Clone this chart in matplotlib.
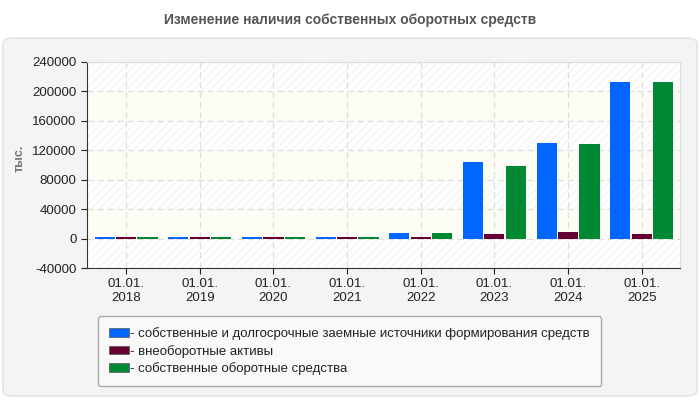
import matplotlib.pyplot as plt
import numpy as np
from matplotlib.patches import FancyBboxPatch

plt.rcParams['font.family'] = ['Liberation Sans', 'DejaVu Sans']
plt.rcParams['hatch.linewidth'] = 0.6
plt.rcParams['axes.unicode_minus'] = False

# data
dates = ["01.01.\n2018", "01.01.\n2019", "01.01.\n2020", "01.01.\n2021",
         "01.01.\n2022", "01.01.\n2023", "01.01.\n2024", "01.01.\n2025"]
sources = [2700, 2700, 2700, 2700, 7000, 104600, 130500, 213400]
noncurrent = [2500, 2500, 2500, 2500, 2500, 6800, 9500, 6800]
working = [2500, 2500, 2500, 2500, 7000, 99200, 129100, 213400]
labels = ["- собственные и долгосрочные заемные источники формирования средств",
          "- внеоборотные активы",
          "- собственные оборотные средства"]
colors = ["#0066ff", "#660033", "#008833"]

fig = plt.figure(figsize=(7, 4), dpi=100)
fig.patch.set_facecolor("white")

# grey panel behind the chart
panel = FancyBboxPatch((0.004, 0.01), 0.992, 0.895, boxstyle="round,pad=0,rounding_size=0.015",
                       transform=fig.transFigure, facecolor="#f4f4f4", edgecolor="#e2e2e2",
                       lw=1, zorder=-10)
fig.patches.append(panel)

fig.text(0.5, 0.95, "Изменение наличия собственных оборотных средств", ha="center", va="center",
         fontsize=10, fontweight="bold", color="#555555")

ax = fig.add_axes([87/700, 1-268/400, 593/700, 206/400])
ax.set_facecolor("white")

# striped background bands
edges = np.arange(-40000, 240001, 40000)
for k in range(len(edges)-1):
    if k % 2 == 0:
        ax.axhspan(edges[k], edges[k+1], facecolor="white", edgecolor="#efefef", hatch="////", lw=0, zorder=0)
    else:
        ax.axhspan(edges[k], edges[k+1], facecolor="#fdfdf5", lw=0, zorder=0)

x = np.arange(len(dates))
w = 0.275
ax.bar(x - 0.29, sources, w, color=colors[0], zorder=3)
ax.bar(x, noncurrent, w, color=colors[1], zorder=3)
ax.bar(x + 0.29, working, w, color=colors[2], zorder=3)

ax.set_xlim(-0.53, 7.52)
ax.set_ylim(-40000, 240000)
ax.set_yticks(edges)
ax.set_xticks(x)
ax.set_xticklabels(dates)
ax.tick_params(labelsize=9.5, colors="#222222", length=4)
ax.grid(True, color="#dddddd", linestyle=(0, (5, 3)), lw=0.9, zorder=1)

for side in ["top", "right"]:
    ax.spines[side].set_color("#dddddd")
for side in ["left", "bottom"]:
    ax.spines[side].set_color("#333333")

fig.text(20/700, 1-158/400, "тыс.", rotation=90, ha="center", va="center",
         fontsize=9, fontweight="bold", color="#777777")

# legend
handles = [FancyBboxPatch((0, 0), 1, 1, boxstyle="round,pad=0,rounding_size=0.3",
                          facecolor=c, edgecolor="#555555", lw=0.5) for c in colors]
leg = fig.legend(handles, labels, loc="upper left", bbox_to_anchor=(98/700, 1-316/400),
                 fontsize=9.5, frameon=True, handlelength=1.5, handleheight=0.6, handletextpad=0.1,
                 labelspacing=0.35, borderpad=0.85, borderaxespad=0, fancybox=True)
leg.get_frame().set_facecolor("#f9f9f9")
leg.get_frame().set_edgecolor("#aaaaaa")
leg.get_frame().set_alpha(1)
for t in leg.get_texts():
    t.set_color("#222222")

fig.savefig("out.png", dpi=100)
